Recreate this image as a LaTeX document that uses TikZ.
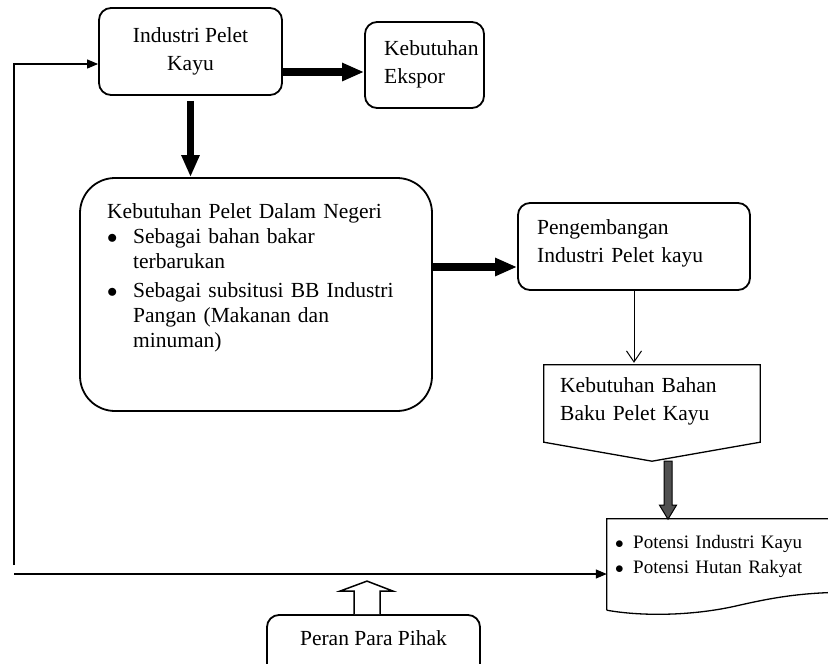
\documentclass[tikz,border=0pt]{standalone}
\usepackage{xcolor}
\usepackage{fontspec}
\setmainfont{Liberation Serif}
\usepackage{tikz}
\usetikzlibrary{positioning, arrows.meta, calc}
\definecolor{panahgray}{RGB}{80, 80, 80}
\newcommand{\butir}[1][26pt]{\makebox[#1][l]{$\bullet$}}

\begin{document}
\begin{tikzpicture}[
  x=1pt, y=-1pt,
  kotak/.style={draw, line width=1.8pt, rounded corners=12pt, inner sep=0pt},
  teks/.style={inner sep=0pt, anchor=base west, align=left, text width=#1, font=\fontsize{21.5}{28}\selectfont},
  teks/.default=330pt,
  tebal/.style={line width=7.5pt, -{Triangle[length=22pt, width=17pt]}},
  tipis/.style={line width=1.2pt, -{Triangle[length=11pt, width=9pt]}}
]
    \useasboundingbox (0,0) rectangle (828,664);
    \clip (0,0) rectangle (828,664);

    \node[kotak, minimum width=183pt, minimum height=87pt, align=center, font=\fontsize{21.5}{28}\selectfont] (industri) at (190.5,51.5) {Industri Pelet\\Kayu};

    \node[kotak, minimum width=119pt, minimum height=86pt] (ekspor) at (424.5,65) {};
    \node[teks] (ekspor-teks) at (384,55) {Kebutuhan\\Ekspor};

    \node[kotak, rounded corners=35pt, minimum width=352pt, minimum height=233pt] (dalam) at (256,294.5) {};
    \node[teks, font=\fontsize{21.5}{25}\selectfont] (dalam-teks) at (107,218) {Kebutuhan Pelet Dalam Negeri\\
      \butir Sebagai bahan bakar\\
      \hspace*{26pt}terbarukan\\[4pt]
      \butir Sebagai subsitusi BB Industri\\
      \hspace*{26pt}Pangan (Makanan dan\\
      \hspace*{26pt}minuman)};

    \node[kotak, minimum width=232pt, minimum height=87pt] (kembang) at (634,246.5) {};
    \node[teks] (kembang-teks) at (537,234) {Pengembangan\\Industri Pelet kayu};

    % kotak bahan baku (segilima)
    \node[minimum width=216pt, minimum height=96pt, inner sep=0pt] (bahan) at (652,413) {};
    \draw[line width=1.3pt] (bahan.north west) -- (bahan.north east) -- ([yshift=19pt]bahan.south east) -- (bahan.south) -- ([yshift=19pt]bahan.south west) -- cycle;
    \node[teks] (bahan-teks) at (560,392) {Kebutuhan Bahan\\Baku Pelet Kayu};

    % kotak potensi (dokumen)
    \node[minimum width=243pt, minimum height=91pt, inner sep=0pt] (potensi) at (728.5,564.5) {};
    \draw[line width=1.3pt] (potensi.south west) -- (potensi.north west) -- (potensi.north east) -- ($(potensi.south east)+(0,-18)$)
      .. controls ($(potensi.south east)+(-50,-18)$) and ($(potensi.south)+(41.5,-12)$) .. ($(potensi.south)+(6.5,-4)$)
      .. controls ($(potensi.south)+(-38.5,6)$) and ($(potensi.south west)+(33,6)$) .. (potensi.south west);
    \node[teks=220pt, font=\fontsize{19}{25}\selectfont] (potensi-teks) at (615,548) {\butir[18pt]Potensi Industri Kayu\\
      \butir[18pt]Potensi Hutan Rakyat};

    \node[kotak, minimum width=213pt, minimum height=65pt] (peran) at (373.5,647.5) {};
    \node[inner sep=0pt, anchor=base, font=\fontsize{21.5}{28}\selectfont] (peran-teks) at (373.5,645) {Peran Para Pihak};

    \draw[tebal] ([yshift=-20.5pt]industri.east) -- ([yshift=-20.5pt]industri.east -| ekspor.west);
    \draw[tebal, shorten <=5pt] (industri.south) -- (industri.south |- dalam.north);
    \draw[tebal] ([yshift=27.5pt]dalam.east) -- ([yshift=27.5pt]dalam.east -| kembang.west);
    \draw[line width=1pt, shorten >=2pt, -{Straight Barb[length=11pt, width=15pt]}] (kembang.south) -- (kembang.south |- bahan.north);
    \draw[fill=panahgray, line width=1pt] ([xshift=12pt]bahan.south) -- ++(0,44) -- ++(-4.5,0) -- ++(8.5,14) -- ++(8.5,-14) -- ++(-4.5,0) -- ++(0,-44) -- cycle;

    \coordinate (balik) at (14,565);
    \draw[tipis] (balik) |- ([yshift=-12.5pt]industri.west);
    \coordinate (bawah) at (14,574);
    \draw[tipis] (bawah) -- (bawah -| potensi.west);

    \draw[line width=1.5pt, fill=white] ([xshift=-19.5pt]peran.north) -- ++(0,-23) -- ++(-14,0) -- ++(27,-10) -- ++(26,10) -- ++(-13,0) -- ++(0,23);
\end{tikzpicture}
\end{document}
